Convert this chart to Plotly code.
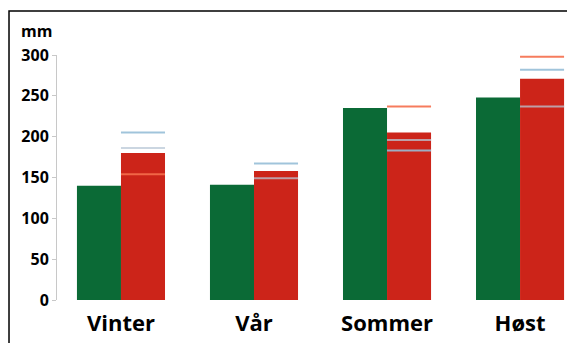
import plotly.graph_objects as go

# ===============================
# DATA
# ===============================
seasons = ["Vinter", "Vår", "Sommer", "Høst"]
green_values = [140, 141, 235, 248]
red_values = [180, 158, 205, 271]

# short reference lines drawn across the red bars
orange_lines = [154, None, 237, 298]
blue_lines = [205, 167, 183, 282]
pale_lines = [186, 149, 196, 237]

y_ticks = [0, 50, 100, 150, 200, 250, 300]

GREEN = "#0b6a36"
RED = "#cc2419"
BAR_W = 0.331


def segments(values):
    xs, ys = [], []
    for i, v in enumerate(values):
        if v is None:
            continue
        xs += [i, i + BAR_W, None]
        ys += [v, v, None]
    return xs, ys


idx = list(range(len(seasons)))

fig = go.Figure()

fig.add_trace(go.Bar(
    x=idx, y=green_values, width=BAR_W, offset=-BAR_W,
    marker=dict(color=GREEN, line=dict(width=0)),
    hoverinfo="skip", showlegend=False,
))
fig.add_trace(go.Bar(
    x=idx, y=red_values, width=BAR_W, offset=0,
    marker=dict(color=RED, line=dict(width=0)),
    hoverinfo="skip", showlegend=False,
))

for vals, col in [
    (pale_lines, "rgba(185,200,215,0.75)"),
    (blue_lines, "rgba(150,190,215,0.9)"),
    (orange_lines, "rgba(245,110,75,0.9)"),
]:
    xs, ys = segments(vals)
    fig.add_trace(go.Scatter(
        x=xs, y=ys, mode="lines",
        line=dict(color=col, width=2),
        hoverinfo="skip", showlegend=False,
    ))

fig.update_layout(
    width=567, height=343,
    margin=dict(l=57, r=0, t=55, b=43),
    paper_bgcolor="white", plot_bgcolor="white",
    barmode="overlay",
    font=dict(family="Open Sans", color="black"),
    xaxis=dict(
        range=[-0.481, 3.353],
        tickvals=idx, ticktext=seasons,
        tickfont=dict(size=22, family="Open Sans", weight="bold"),
        showgrid=False, zeroline=False, showline=False,
        ticks="", ticklen=0, ticklabelstandoff=8,
    ),
    yaxis=dict(
        range=[0, 300],
        tickvals=y_ticks,
        tickfont=dict(size=16, family="Open Sans", weight="bold"),
        showgrid=False, zeroline=False,
        showline=True, linecolor="#c8c8c8", linewidth=1,
        ticks="outside", ticklen=4, tickcolor="#c8c8c8",
    ),
    annotations=[dict(
        text="<b>mm</b>", xref="paper", yref="paper",
        x=0, y=1, xanchor="left", yanchor="middle",
        xshift=-38, yshift=24, showarrow=False,
        font=dict(size=16, family="Open Sans"),
    )],
    shapes=[dict(
        type="rect", xref="paper", yref="paper",
        x0=-0.0941, x1=1.05, y0=-0.3, y1=1.1796,
        line=dict(color="black", width=1.5),
    )],
)

fig.write_html(
    "out.html",
    config={"displayModeBar": False},
    post_script="document.body.style.margin='0';",
)
